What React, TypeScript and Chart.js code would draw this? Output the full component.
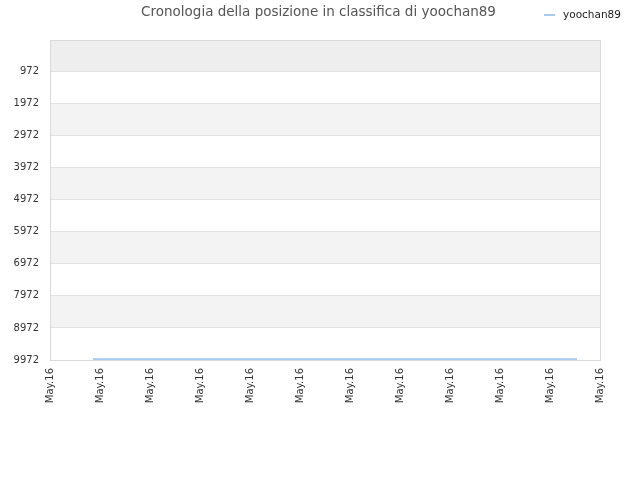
import React, { useEffect, useRef } from "react";
import { Chart, registerables } from "chart.js";

Chart.register(...registerables);

const TITLE = "Cronologia della posizione in classifica di yoochan89";
const SERIES_NAME = "yoochan89";
const xLabels = ["May.16", "May.16", "May.16", "May.16", "May.16", "May.16", "May.16", "May.16", "May.16", "May.16", "May.16", "May.16"];
const yTicks = [972, 1972, 2972, 3972, 4972, 5972, 6972, 7972, 8972, 9972];
const seriesX = [0.86, 10.54];
const seriesY = [9945, 9945];

const LINE_COLOR = "#a6caf0";
const FONT = "'DejaVu Sans', sans-serif";

const bandsPlugin = {
  id: "bands",
  beforeDraw(chart: any) {
    const { ctx, chartArea } = chart;
    const y = chart.scales.y;
    ctx.save();
    ctx.fillStyle = "#ffffff";
    ctx.fillRect(chartArea.left, chartArea.top, chartArea.right - chartArea.left, chartArea.bottom - chartArea.top);
    const firstY = y.getPixelForValue(yTicks[0]);
    ctx.fillStyle = "#eeeeee";
    ctx.fillRect(chartArea.left, chartArea.top, chartArea.right - chartArea.left, firstY - chartArea.top);
    for (let i = 0; i < yTicks.length - 1; i++) {
      if (i % 2 === 1) {
        const a = y.getPixelForValue(yTicks[i]);
        const b = y.getPixelForValue(yTicks[i + 1]);
        ctx.fillStyle = "#f3f3f3";
        ctx.fillRect(chartArea.left, a, chartArea.right - chartArea.left, b - a);
      }
    }
    ctx.restore();
  },
  afterDraw(chart: any) {
    const { ctx, chartArea } = chart;
    ctx.save();
    ctx.strokeStyle = "#d9d9d9";
    ctx.lineWidth = 1;
    ctx.strokeRect(
      Math.round(chartArea.left) + 0.5,
      Math.round(chartArea.top) + 0.5,
      Math.round(chartArea.right - chartArea.left),
      Math.round(chartArea.bottom - chartArea.top)
    );
    ctx.fillStyle = "#555555";
    ctx.font = `13.5px ${FONT}`;
    ctx.textAlign = "center";
    ctx.textBaseline = "middle";
    ctx.fillText(TITLE, 318.5, 12);
    ctx.strokeStyle = LINE_COLOR;
    ctx.lineWidth = 2;
    ctx.beginPath();
    ctx.moveTo(544, 15);
    ctx.lineTo(555, 15);
    ctx.stroke();
    ctx.fillStyle = "#222222";
    ctx.font = `10.5px ${FONT}`;
    ctx.textAlign = "left";
    ctx.fillText(SERIES_NAME, 563, 15);
    ctx.restore();
  },
};

export default function App() {
  const ref = useRef<HTMLCanvasElement | null>(null);
  useEffect(() => {
    if (!ref.current) return;
    const chart = new Chart(ref.current, {
      type: "line",
      data: {
        datasets: [
          {
            label: SERIES_NAME,
            data: seriesX.map((x, i) => ({ x, y: seriesY[i] })),
            borderColor: LINE_COLOR,
            borderWidth: 2,
            pointRadius: 0,
            fill: false,
            tension: 0,
          },
        ],
      },
      options: {
        animation: false,
        responsive: false,
        maintainAspectRatio: false,
        layout: { padding: { top: 40, right: 40, left: 0, bottom: 0 } },
        plugins: {
          legend: { display: false },
          title: { display: false },
          tooltip: { enabled: false },
        },
        scales: {
          x: {
            type: "linear",
            min: 0,
            max: xLabels.length - 1,
            afterBuildTicks: (s: any) => {
              s.ticks = xLabels.map((_, i) => ({ value: i }));
            },
            afterFit: (s: any) => {
              s.height = 120;
            },
            grid: { display: false, drawTicks: false },
            border: { display: false },
            ticks: {
              autoSkip: false,
              minRotation: 90,
              maxRotation: 90,
              padding: 8,
              color: "#333333",
              font: { family: FONT, size: 10 },
              callback: (v: any) => xLabels[Math.round(Number(v))] ?? "",
            },
          },
          y: {
            type: "linear",
            reverse: true,
            min: 0,
            max: 9972,
            afterBuildTicks: (s: any) => {
              s.ticks = yTicks.map((v) => ({ value: v }));
            },
            afterFit: (s: any) => {
              s.width = 50;
            },
            grid: { color: "#e2e2e2", drawTicks: false, lineWidth: 1 },
            border: { display: false },
            ticks: {
              autoSkip: false,
              padding: 11,
              color: "#333333",
              font: { family: FONT, size: 10 },
              callback: (v: any) => String(v),
            },
          },
        },
      },
      plugins: [bandsPlugin],
    });
    return () => chart.destroy();
  }, []);
  return (
    <div style={{ position: "absolute", left: 0, top: 0, width: 640, height: 480, background: "#ffffff" }}>
      <canvas ref={ref} width={640} height={480} style={{ width: 640, height: 480 }} />
    </div>
  );
}
